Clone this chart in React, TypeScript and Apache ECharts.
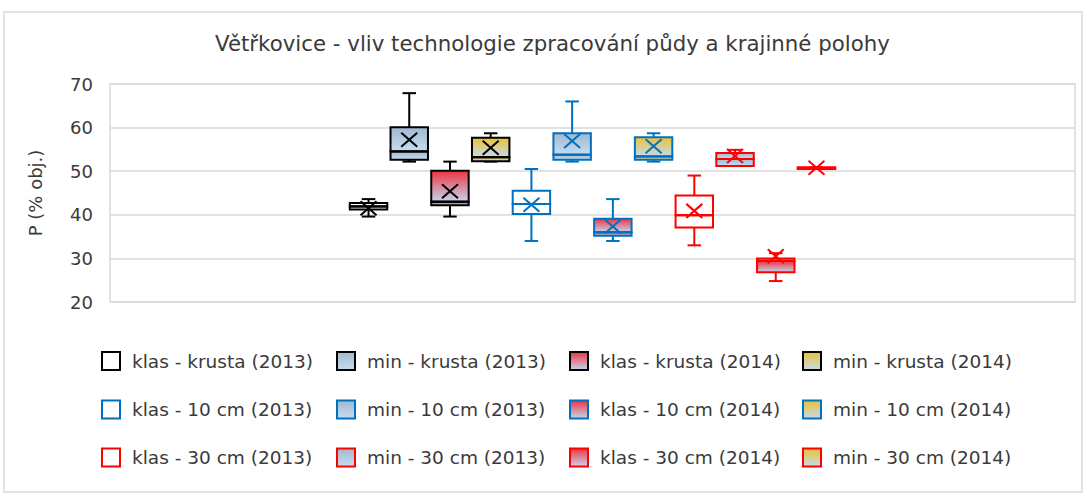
import React, { useEffect, useRef } from "react";
import * as echarts from "echarts";

const TITLE = "Větřkovice - vliv technologie zpracování půdy a krajinné polohy";
const Y_AXIS_NAME = "P (% obj.)";
const Y_MIN = 20;
const Y_MAX = 70;
const Y_INTERVAL = 10;
const CATEGORIES = [""];

const SERIES_NAMES = [
  "klas - krusta (2013)",
  "min - krusta (2013)",
  "klas - krusta (2014)",
  "min - krusta (2014)",
  "klas - 10 cm (2013)",
  "min - 10 cm (2013)",
  "klas - 10 cm (2014)",
  "min - 10 cm (2014)",
  "klas - 30 cm (2013)",
  "min - 30 cm (2013)",
  "klas - 30 cm (2014)",
  "min - 30 cm (2014)",
];

const MIN_VALUES = [39.6, 52.2, 39.6, 52.2, 34.0, 52.2, 34.0, 52.2, 33.0, 51.2, 24.8, 50.5];
const Q1_VALUES = [41.2, 52.6, 42.2, 52.3, 40.2, 52.6, 35.2, 52.6, 37.1, 51.2, 26.8, 50.5];
const MEDIAN_VALUES = [41.9, 54.5, 43.0, 53.2, 42.5, 53.8, 36.0, 53.4, 39.9, 52.8, 29.4, 50.7];
const Q3_VALUES = [42.7, 60.1, 50.1, 57.7, 45.5, 58.7, 39.1, 57.8, 44.4, 54.2, 30.0, 50.9];
const MAX_VALUES = [43.6, 67.9, 52.2, 58.7, 50.5, 66.0, 43.6, 58.7, 49.0, 54.9, 31.2, 50.9];
const MEAN_VALUES = [41.5, 57.2, 45.4, 55.4, 42.3, 56.9, 37.3, 55.7, 40.9, 53.5, 30.5, 50.8];

// styling
const OUTLINE_COLORS = ["#000000", "#000000", "#000000", "#000000", "#0070c0", "#0070c0", "#0070c0", "#0070c0", "#ff0000", "#ff0000", "#ff0000", "#ff0000"];
const FILL_KINDS = ["none", "gray", "red", "yellow", "none", "gray", "red", "yellow", "none", "gray", "red", "yellow"];
const FILL_STOPS: Record<string, [string, string]> = {
  none: ["#ffffff", "#ffffff"],
  gray: ["#a2b8cf", "#c6dcf0"],
  red: ["#ee3442", "#c4d6ee"],
  yellow: ["#ecc232", "#c4daef"],
};

const FONT = "'DejaVu Sans', 'Liberation Sans', sans-serif";
const TEXT_COLOR = "#3a3a3a";
const GRID_COLOR = "#d9d9d9";

const makeFill = (kind: string) => {
  const [a, b] = FILL_STOPS[kind];
  return new echarts.graphic.LinearGradient(0, 0, 0, 1, [
    { offset: 0, color: a },
    { offset: 1, color: b },
  ]);
};

const SLOT_FRACTION = 0.0422;
const BOX_FRACTION = 0.0388;

export default function App() {
  const ref = useRef<HTMLDivElement>(null);
  useEffect(() => {
    if (!ref.current) return;
    const chart = echarts.init(ref.current, undefined, { renderer: "svg" });
    const n = SERIES_NAMES.length;

    const series = SERIES_NAMES.map((name, i) => ({
      type: "custom",
      name,
      data: [[0, MIN_VALUES[i], Q1_VALUES[i], MEDIAN_VALUES[i], Q3_VALUES[i], MAX_VALUES[i], MEAN_VALUES[i]]],
      encode: { x: 0, y: [1, 5] },
      renderItem: (params: any, api: any) => {
        const idx = params.seriesIndex;
        const cat = api.value(0);
        const band = api.size([1, 0])[0];
        const base = api.coord([cat, api.value(3)])[0];
        const cx = base + (idx - (n - 1) / 2) * band * SLOT_FRACTION;
        const w = band * BOX_FRACTION;
        const cap = w * 0.36;
        const y = (v: number) => api.coord([cat, v])[1];
        const yMin = y(api.value(1));
        const yQ1 = y(api.value(2));
        const yMed = y(api.value(3));
        const yQ3 = y(api.value(4));
        const yMax = y(api.value(5));
        const yMean = y(api.value(6));
        const color = OUTLINE_COLORS[idx];
        const kind = FILL_KINDS[idx];
        const lw = 2;
        const line = (x1: number, y1: number, x2: number, y2: number) => ({
          type: "line",
          shape: { x1, y1, x2, y2 },
          style: { stroke: color, lineWidth: lw },
        });
        const children: any[] = [
          line(cx, yMax, cx, yQ3),
          line(cx, yQ1, cx, yMin),
          line(cx - cap / 2, yMax, cx + cap / 2, yMax),
          line(cx - cap / 2, yMin, cx + cap / 2, yMin),
          {
            type: "rect",
            shape: { x: cx - w / 2, y: yQ3, width: w, height: Math.max(yMed - yQ3, 0.01) },
            style: { fill: makeFill(kind), stroke: color, lineWidth: lw },
          },
          {
            type: "rect",
            shape: { x: cx - w / 2, y: yMed, width: w, height: Math.max(yQ1 - yMed, 0.01) },
            style: { fill: makeFill(kind), stroke: color, lineWidth: lw },
          },
          line(cx - w / 2, yMed, cx + w / 2, yMed),
          line(cx - 8, yMean - 7, cx + 8, yMean + 7),
          line(cx - 8, yMean + 7, cx + 8, yMean - 7),
        ];
        return { type: "group", children };
      },
    }));

    const COL_X = [101, 336, 569, 802];
    const ROW_Y = [351, 399.5, 447.5];
    const legends = SERIES_NAMES.map((name, i) => {
      const [a, b] = FILL_STOPS[FILL_KINDS[i]];
      return {
        show: true,
        selectedMode: false,
        left: COL_X[i % 4],
        top: ROW_Y[Math.floor(i / 4)],
        padding: 0,
        itemWidth: 18,
        itemHeight: 18,
        textStyle: {
          fontFamily: FONT,
          fontSize: 18.5,
          color: TEXT_COLOR,
          padding: [0, 0, 0, 7],
        },
        data: [
          {
            name,
            icon: "rect",
            itemStyle: {
              color: new echarts.graphic.LinearGradient(0, 0, 0, 1, [
                { offset: 0, color: a },
                { offset: 1, color: b },
              ]),
              borderColor: OUTLINE_COLORS[i],
              borderWidth: 2,
            },
          },
        ],
      };
    });

    chart.setOption({
      animation: false,
      backgroundColor: "#ffffff",
      title: {
        text: TITLE,
        left: 215,
        top: 33,
        padding: 0,
        textStyle: { fontFamily: FONT, fontSize: 21.3, fontWeight: "normal", color: TEXT_COLOR },
      },
      graphic: [
        {
          type: "rect",
          shape: { x: 4, y: 12, width: 1078, height: 480 },
          style: { fill: "none", stroke: GRID_COLOR, lineWidth: 1.5 },
          silent: true,
        },
      ],
      legend: legends,
      grid: {
        left: 110,
        right: 13,
        top: 84,
        bottom: 193,
        show: true,
        borderColor: GRID_COLOR,
        borderWidth: 1.5,
      },
      xAxis: {
        type: "category",
        data: CATEGORIES,
        axisLine: { show: false },
        axisTick: { show: false },
        axisLabel: { show: false },
      },
      yAxis: {
        type: "value",
        min: Y_MIN,
        max: Y_MAX,
        interval: Y_INTERVAL,
        name: Y_AXIS_NAME,
        nameLocation: "middle",
        nameGap: 66,
        nameTextStyle: { fontFamily: FONT, fontSize: 18, color: TEXT_COLOR },
        axisLine: { show: false },
        axisTick: { show: false },
        axisLabel: { fontFamily: FONT, fontSize: 18, color: TEXT_COLOR, margin: 17 },
        splitLine: { lineStyle: { color: GRID_COLOR, width: 1.5 } },
      },
      series,
    });
    return () => chart.dispose();
  }, []);
  return (
    <div
      ref={ref}
      style={{ position: "absolute", left: 0, top: 0, width: 1088, height: 495, background: "#fff" }}
    />
  );
}
